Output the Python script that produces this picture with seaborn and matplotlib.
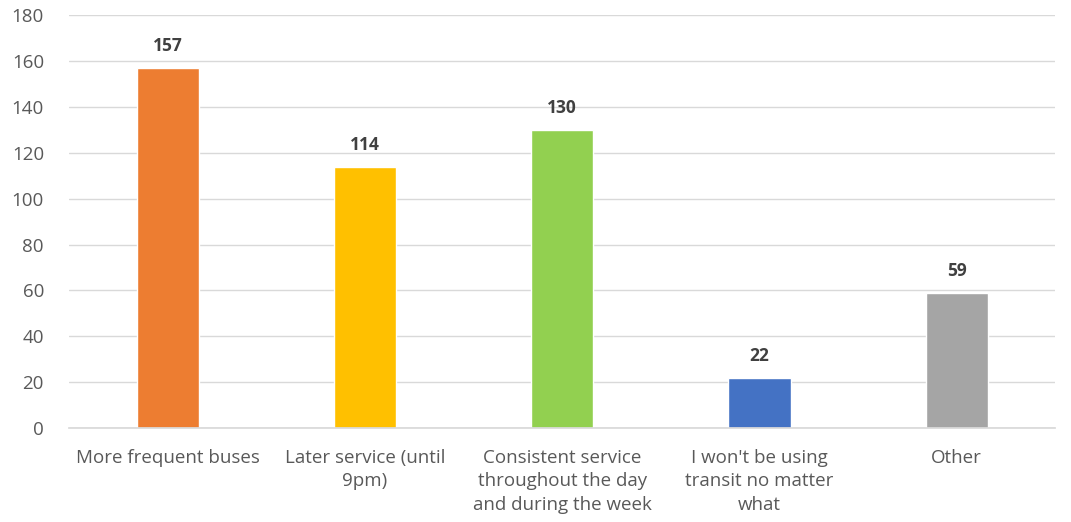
import matplotlib
matplotlib.use("Agg")
import matplotlib.pyplot as plt
import seaborn as sns
import pandas as pd

categories = ["More frequent buses", "Later service (until\n9pm)",
              "Consistent service\nthroughout the day\nand during the week",
              "I won't be using\ntransit no matter\nwhat", "Other"]
values = [157, 114, 130, 22, 59]
colors = ["#ED7D31", "#FFC000", "#92D050", "#4472C4", "#A5A5A5"]
yticks = [0, 20, 40, 60, 80, 100, 120, 140, 160, 180]

sns.set_theme(style="white")
plt.rcParams['font.family'] = ['Open Sans', 'DejaVu Sans']

df = pd.DataFrame({"cat": categories, "val": values})
fig = plt.figure(figsize=(10.71, 5.22), dpi=100)
ax = fig.add_axes([0.0644, 0.18, 0.921, 0.791])
sns.barplot(data=df, x="cat", y="val", hue="cat", palette=colors, legend=False,
            width=0.315, ax=ax, saturation=1)
ax.set_ylim(0, 180)
ax.set_yticks(yticks)
ax.set_xlim(-0.5, 4.5)
ax.grid(axis="y", color="#d9d9d9", linewidth=1)
ax.set_axisbelow(True)
for s in ["top", "right", "left"]:
    ax.spines[s].set_visible(False)
ax.spines["bottom"].set_color("#d9d9d9")
ax.set_xlabel("")
ax.set_ylabel("")
ax.tick_params(axis="both", length=0, labelsize=13.5, labelcolor="#595959")
ax.tick_params(axis="x", pad=15)
ax.tick_params(axis="y", pad=18)
for lbl in ax.get_xticklabels():
    lbl.set_linespacing(1.38)
for c in ax.containers:
    ax.bar_label(c, fmt="%d", padding=9, fontsize=12.5, fontweight="bold", color="#404040")
fig.savefig("out.png", dpi=100)
